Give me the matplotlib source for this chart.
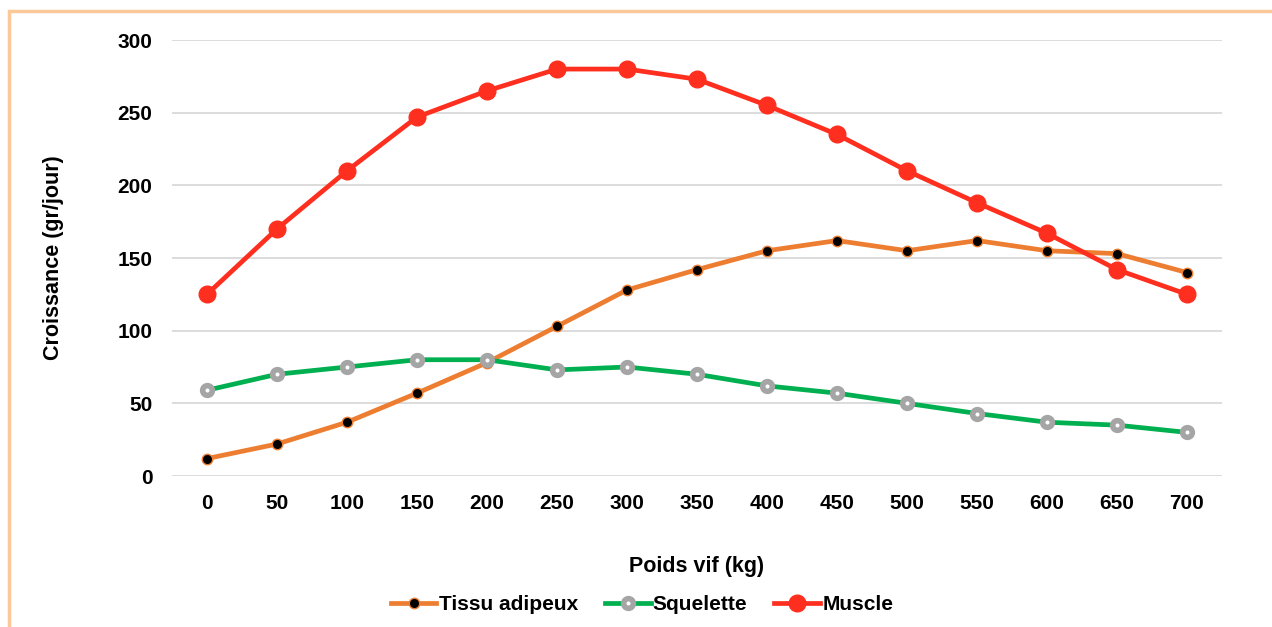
import matplotlib.pyplot as plt
from matplotlib.patches import Rectangle

plt.rcParams['font.family'] = ['Liberation Sans', 'DejaVu Sans']

poids = [0, 50, 100, 150, 200, 250, 300, 350, 400, 450, 500, 550, 600, 650, 700]
tissu = [12, 22, 37, 57, 78, 103, 128, 142, 155, 162, 155, 162, 155, 153, 140]
squelette = [59, 70, 75, 80, 80, 73, 75, 70, 62, 57, 50, 43, 37, 35, 30]
muscle = [125, 170, 210, 247, 265, 280, 280, 273, 255, 235, 210, 188, 167, 142, 125]

fig = plt.figure(figsize=(12.72, 6.27), dpi=100)
ax = fig.add_axes([172/1272, 1-476/627, 1050/1272, 436/627])

# orange frame round the chart
fig.patches.append(Rectangle((9/1272, -0.1), 1.2, 1-11/627+0.1, transform=fig.transFigure,
                             fill=False, edgecolor='#FBC89A', linewidth=2.5))

x = list(range(len(poids)))
ax.plot(x, tissu, color='#ED7D31', lw=3.4, marker='o', ms=7.5,
        mfc='black', mec='#ED7D31', mew=1, label='Tissu adipeux', zorder=3)
ax.plot(x, squelette, color='#00B050', lw=3.4, marker='o', ms=7,
        mfc='white', mec='#A5A5A5', mew=4, label='Squelette', zorder=3)
ax.plot(x, muscle, color='#FF2F1F', lw=3.4, marker='o', ms=12,
        mfc='#FF2F1F', mec='#FF2F1F', label='Muscle', zorder=4)

ax.set_xlim(-0.5, len(poids) - 0.5)
ax.set_ylim(0, 300)
ax.set_yticks(range(0, 301, 50))
ax.set_xticks(x)
ax.set_xticklabels([str(p) for p in poids])
ax.grid(axis='y', color='#D9D9D9', lw=1.3)
ax.set_axisbelow(True)
for s in ax.spines.values():
    s.set_visible(False)
ax.tick_params(length=0, labelsize=15)
ax.tick_params(axis='y', pad=14)
ax.tick_params(axis='x', pad=13)
for lab in ax.get_xticklabels() + ax.get_yticklabels():
    lab.set_fontweight('bold')

ax.set_ylabel('Croissance (gr/jour)', fontsize=15.5, fontweight='bold')
ax.yaxis.set_label_coords(-108/1050, 0.5)
ax.set_xlabel('Poids vif (kg)', fontsize=15.5, fontweight='bold')
ax.xaxis.set_label_coords(0.5, -80/436)

leg = fig.legend(loc='center', bbox_to_anchor=(642/1272, 1-605/627), ncol=3, frameon=False,
                 prop={'size': 15, 'weight': 'bold'}, handlelength=2.2, handletextpad=0.1,
                 columnspacing=1.3)

fig.savefig('out.png', dpi=100)
